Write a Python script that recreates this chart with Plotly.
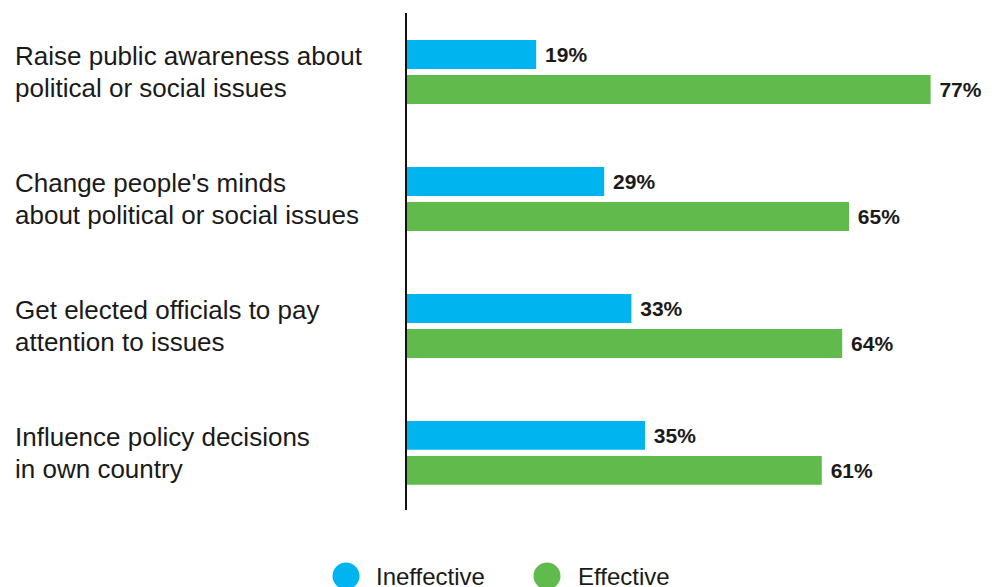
import plotly.graph_objects as go

# Survey data: perceived effectiveness of online activism
category_lines = [
    ["Raise public awareness about", "political or social issues"],
    ["Change people's minds", "about political or social issues"],
    ["Get elected officials to pay", "attention to issues"],
    ["Influence policy decisions", "in own country"],
]
series_names = ["Ineffective", "Effective"]
ineffective = [19, 29, 33, 35]
effective = [77, 65, 64, 61]

colors = ["#00B4EF", "#60BB4C"]
text_color = "#1a1a1a"
font_family = "Liberation Sans, Arial, sans-serif"

W, H = 995, 587
margin = dict(l=407, r=10, t=13, b=77)
plot_w = W - margin["l"] - margin["r"]
plot_h = H - margin["t"] - margin["b"]


def px_to_paper_x(px):
    return (px - margin["l"]) / plot_w


def px_to_paper_y(py):
    return (H - margin["b"] - py) / plot_h


positions = list(range(len(category_lines)))
bar_w = 0.228
half_gap = 0.024

fig = go.Figure()
for vals, name, color, offset in [
    (ineffective, series_names[0], colors[0], -bar_w - half_gap),
    (effective, series_names[1], colors[1], half_gap),
]:
    fig.add_trace(go.Bar(
        x=vals,
        y=positions,
        orientation="h",
        name=name,
        marker=dict(color=color, line=dict(width=0)),
        width=bar_w,
        offset=offset,
        text=vals,
        texttemplate="\u00a0%{x}%",
        textposition="outside",
        textfont=dict(family=font_family, size=21, color=text_color, weight="bold"),
        cliponaxis=False,
        showlegend=False,
        hoverinfo="skip",
    ))

# Two-line category labels, left aligned, 32px line pitch
annotations = []
line_pitch = 32
for pos, lines in zip(positions, category_lines):
    n = len(lines)
    for i, line in enumerate(lines):
        annotations.append(dict(
            x=px_to_paper_x(13), xref="paper", xanchor="left",
            y=pos, yref="y", yanchor="middle",
            yshift=((n - 1) / 2 - i) * line_pitch,
            text=line, showarrow=False, align="left",
            font=dict(family=font_family, size=26, color=text_color),
        ))

# Legend drawn with circular swatches
shapes = []
legend_y = px_to_paper_y(576)
for name, color, cx, tx in zip(series_names, colors, [346, 547], [374, 576]):
    shapes.append(dict(
        type="circle", xref="paper", yref="paper",
        xsizemode="pixel", ysizemode="pixel",
        xanchor=px_to_paper_x(cx), yanchor=legend_y,
        x0=-13.5, x1=13.5, y0=-13.5, y1=13.5,
        fillcolor=color, line=dict(width=0),
    ))
    annotations.append(dict(
        x=px_to_paper_x(tx), xref="paper", xanchor="left",
        y=legend_y, yref="paper", yanchor="middle",
        text=name, showarrow=False,
        font=dict(family=font_family, size=24, color=text_color),
    ))

fig.update_layout(
    width=W, height=H,
    margin=margin,
    paper_bgcolor="white", plot_bgcolor="white",
    barmode="overlay",
    xaxis=dict(range=[0, 85], visible=False, fixedrange=True),
    yaxis=dict(
        range=[3.45, -0.465], showticklabels=False, showgrid=False,
        zeroline=False, showline=True, linecolor="#111111", linewidth=1.5,
        ticks="", fixedrange=True,
    ),
    annotations=annotations,
    shapes=shapes,
    showlegend=False,
)

fig.write_html("out.html")
